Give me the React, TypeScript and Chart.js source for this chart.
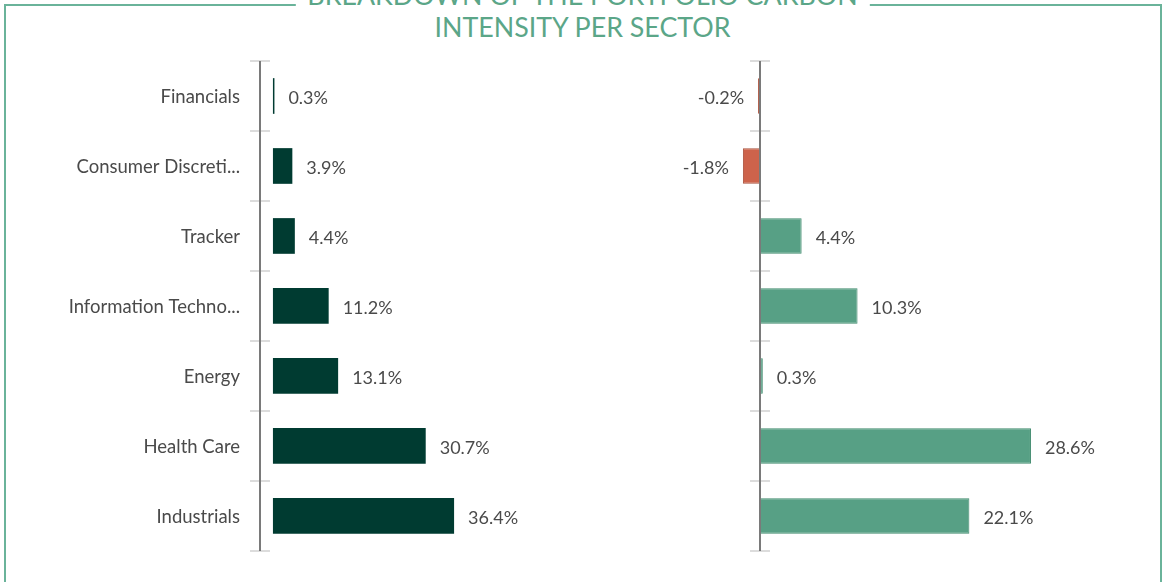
import React, { useEffect, useRef } from "react";
import { Chart, registerables } from "chart.js";

Chart.register(...registerables);

const categories = [
  "Financials",
  "Consumer Discreti...",
  "Tracker",
  "Information Techno...",
  "Energy",
  "Health Care",
  "Industrials",
];
const portfolioValues = [0.3, 3.9, 4.4, 11.2, 13.1, 30.7, 36.4];
const contributionValues = [-0.2, -1.8, 4.4, 10.3, 0.3, 28.6, 22.1];
const titleLines = ["BREAKDOWN OF THE PORTFOLIO CARBON", "INTENSITY PER SECTOR"];

const W = 1167;
const H = 582;
const TEXT = "#4a4a4a";
const FONT = "Lato";

const axisPlugin = {
  id: "customAxis",
  afterDatasetsDraw(chart: any, _args: any, opts: any) {
    const { ctx, chartArea } = chart;
    const x = chart.scales.x;
    const y = chart.scales.y;
    const ax = opts.atZero ? Math.round(x.getPixelForValue(0)) : Math.round(chartArea.left);
    const n = chart.data.labels.length;
    ctx.save();
    ctx.strokeStyle = "#d0d0d0";
    ctx.lineWidth = 1.5;
    for (let i = 0; i <= n; i++) {
      const py = Math.round(y.getPixelForValue(i - 0.5));
      ctx.beginPath();
      ctx.moveTo(ax - 10, py);
      ctx.lineTo(ax + 10, py);
      ctx.stroke();
    }
    ctx.strokeStyle = "#7a7a7a";
    ctx.lineWidth = 2;
    ctx.beginPath();
    ctx.moveTo(ax, y.getPixelForValue(-0.5));
    ctx.lineTo(ax, y.getPixelForValue(n - 0.5));
    ctx.stroke();

    // value labels
    ctx.font = `18px ${FONT}`;
    ctx.fillStyle = TEXT;
    ctx.textBaseline = "middle";
    const meta = chart.getDatasetMeta(0);
    const data = chart.data.datasets[0].data;
    meta.data.forEach((el: any, i: number) => {
      const v = data[i];
      const txt = `${v.toFixed(1)}%`;
      if (v >= 0) {
        ctx.textAlign = "left";
        ctx.fillText(txt, el.x + 14, el.y + 2);
      } else {
        ctx.textAlign = "right";
        ctx.fillText(txt, el.x - 14, el.y + 2);
      }
    });
    ctx.restore();
  },
};

function BarPanel(props: {
  values: number[];
  min: number;
  max: number;
  padding: any;
  showLabels: boolean;
  atZero: boolean;
  bg: (v: number) => string;
  border: (v: number) => string;
  borderWidth: number;
}) {
  const ref = useRef<HTMLCanvasElement>(null);
  useEffect(() => {
    if (!ref.current) return;
    const chart = new Chart(ref.current, {
      type: "bar",
      data: {
        labels: categories,
        datasets: [
          {
            data: props.values,
            backgroundColor: props.values.map(props.bg),
            borderColor: props.values.map(props.border),
            borderWidth: props.borderWidth,
            barPercentage: 0.51,
            categoryPercentage: 1,
          },
        ],
      },
      options: {
        indexAxis: "y",
        animation: false,
        responsive: false,
        maintainAspectRatio: false,
        layout: { padding: props.padding },
        plugins: {
          legend: { display: false },
          tooltip: { enabled: false },
          title: { display: false },
          customAxis: { atZero: props.atZero },
        } as any,
        scales: {
          x: {
            display: false,
            min: props.min,
            max: props.max,
          },
          y: {
            display: props.showLabels,
            grid: { display: false, drawTicks: false },
            border: { display: false },
            ticks: {
              padding: 20,
              labelOffset: 1,
              color: TEXT,
              font: { family: FONT, size: 18.5 },
            },
            afterFit: (s: any) => {
              if (props.showLabels) s.width = 260;
            },
          },
        },
      },
      plugins: [axisPlugin],
    });
    return () => chart.destroy();
  }, []);
  return (
    <canvas
      ref={ref}
      width={W}
      height={H}
      style={{ position: "absolute", left: 0, top: 0, width: W, height: H }}
    />
  );
}

export default function App() {
  return (
    <div
      style={{
        position: "fixed",
        left: 0,
        top: 0,
        width: W,
        height: H,
        overflow: "hidden",
        background: "#fff",
      }}
    >
      <div
        style={{
          position: "absolute",
          left: 4,
          top: 4,
          width: 1158,
          height: 640,
          border: "2px solid #6ab39a",
          boxSizing: "border-box",
        }}
      />
      <div
        style={{
          position: "absolute",
          left: 582.5,
          top: -21,
          transform: "translateX(-50%)",
          background: "#fff",
          padding: "0 12px",
          fontFamily: FONT,
          fontSize: 26.8,
          lineHeight: "32px",
          color: "#5ba688",
          textAlign: "center",
          whiteSpace: "nowrap",
        }}
      >
        {titleLines[0]}
        <br />
        {titleLines[1]}
      </div>
      <BarPanel
        values={portfolioValues}
        min={-2.6}
        max={40}
        padding={{ left: 0, right: W - 472, top: 61, bottom: H - 551 }}
        showLabels={true}
        atZero={false}
        bg={() => "#003b31"}
        border={() => "#003b31"}
        borderWidth={0}
      />
      <BarPanel
        values={contributionValues}
        min={-2}
        max={40}
        padding={{ left: 741, right: W - 1139, top: 61, bottom: H - 551 }}
        showLabels={false}
        atZero={true}
        bg={(v) => (v < 0 ? "#cd634b" : "#57a085")}
        border={(v) => (v < 0 ? "#a9503b" : "#3f8a6d")}
        borderWidth={1}
      />
    </div>
  );
}
